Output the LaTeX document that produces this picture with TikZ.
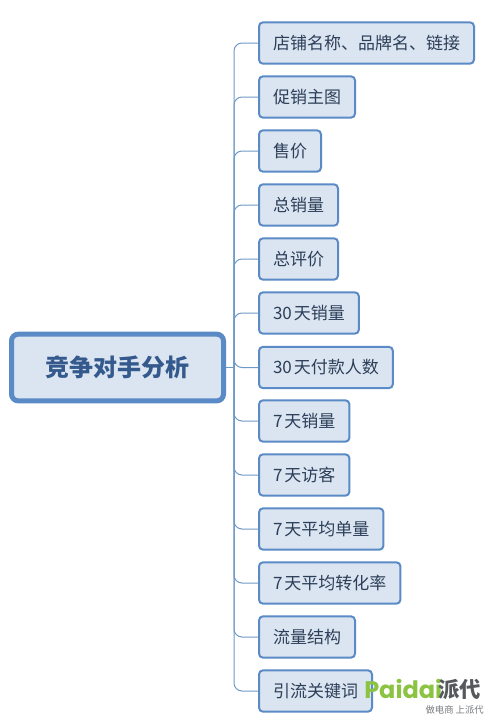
\documentclass[tikz,border=0pt]{standalone}
\usepackage{fontspec}
\setmainfont{Noto Sans CJK SC}
\newfontfamily\logofont{Poppins}
\definecolor{boxfill}{HTML}{DBE5F1}
\definecolor{boxline}{HTML}{5B8BC6}
\definecolor{branchline}{HTML}{6F9AC6}
\definecolor{labeltext}{HTML}{2C3E58}
\definecolor{roottext}{HTML}{34598C}
\definecolor{logogreen}{HTML}{8CC342}
\definecolor{logogray}{HTML}{55595C}
\newcommand{\dayword}{\kern1.5pt 天}
\tikzset{item/.style={anchor=west,draw=boxline,fill=boxfill,line width=1.5pt,rounded corners=3pt,text=labeltext,font=\fontsize{12.75}{15}\selectfont,inner xsep=10.5pt,minimum height=31pt},
root/.style={draw=boxline,fill=boxfill,line width=3.75pt,rounded corners=5pt,text=roottext,font=\fontsize{18}{22}\selectfont\bfseries,minimum width=159pt,minimum height=50pt,inner sep=0pt},
branch/.style={draw=branchline,line width=0.75pt,rounded corners=6pt}}

\begin{document}
\begin{tikzpicture}[x=0.75pt,y=-0.75pt]
	\useasboundingbox[fill=white] (0,0) rectangle (494,722);
	\node[root] (topic) at (117.5,367.5) {竞争对手分析};
	\coordinate (spine) at (234,367.5);
	\draw[branch] (topic.east)--(spine);
	\foreach \i/\y/\name in {1/43/店铺名称、品牌名、链接,2/97/促销主图,3/151/售价,4/205/总销量,5/259/总评价,6/313/30\dayword 销量,7/367.5/30\dayword 付款人数,8/421/7\dayword 销量,9/475/7\dayword 访客,10/529/7\dayword 平均单量,11/583/7\dayword 平均转化率,12/637/流量结构,13/691/引流关键词}{
		\node[item] (n\i) at (258,\y) {\name};
		\draw[branch] (spine) |- (n\i.west);
	}
	% watermark
	\node[anchor=west,inner sep=0pt,text=logogreen,font=\logofont\fontsize{18}{20}\selectfont\bfseries] (logo) at (364,689) {Paidai};
	\node[anchor=west,inner sep=0pt,text=logogray,font=\fontsize{16}{18}\selectfont\bfseries] (logocn) at (438,689.5) {派代};
	\node[anchor=east,inner sep=0pt,text=logogray!80,font=\fontsize{7}{8}\selectfont] (slogan) at (484,709.5) {做电商 上派代};
\end{tikzpicture}
\end{document}
